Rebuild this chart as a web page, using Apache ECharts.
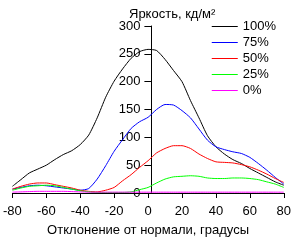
<!DOCTYPE html>
<html><head><meta charset="utf-8">
<script src="https://cdn.jsdelivr.net/npm/echarts@6/dist/echarts.min.js"></script>
<style>html,body{margin:0;padding:0;background:#fff}#c{width:294px;height:242px}</style>
</head><body><div id="c"></div>
<script>
var angles = [-80,-75,-70,-65,-60,-55,-50,-45,-40,-35,-30,-25,-20,-15,-10,-5,0,5,10,15,20,25,30,35,40,45,50,55,60,65,70,75,80];
var s100 = [12,24,36,43,50,60,69,76,87,104,135,172,201,223,242,254,258,256,240,220,200,166,135,103,83,70,60,53,44,36,28,20,14];
var s75  = [7,10,13,14,13,11,9,7,5,8,25,49,75,96,116,128,136,150,159,158,148,135,115,95,83,78,74,71,64,53,41,28,16];
var s50  = [7,12,16,18,18,15,12,9,5,3,2,5,10,22,33,46,58,72,80,85,85,80,70,62,56,55,54,51,47,41,34,26,19];
var s25  = [5,9,12,13,14,13,10,7,4,2,1,1,1,1,2,6,10,18,25,29,30,31,30,27,26,26,27,27,26,24,20,16,10];
var s0   = [1.5,2,2.5,3,3,3,3,2.5,2,1.5,1.5,1.5,1.5,1.5,1.5,1.5,1.5,1.5,1.5,1.5,1.5,1.5,1.5,1.5,1.5,1.5,1.5,1.5,1.5,1.5,1.5,1.5,1.5];
var names = ['100%','75%','50%','25%','0%'];
var colors = ['#000000','#0000ff','#ff0000','#00ff00','#ff00ff'];
var seriesVals = [s100,s75,s50,s25,s0];

function pairs(v){ return angles.map(function(a,i){return [a,v[i]];}); }
var font = 'Liberation Sans, Arial, sans-serif';
var gridLeft = 9, gridRight = 7;
var chart = echarts.init(document.getElementById('c'), null, {renderer:'canvas'});
var plotW = 294 - gridLeft - gridRight;
chart.setOption({
  animation:false,
  color:colors,
  textStyle:{fontFamily:font},
  title:{text:'Яркость, кд/м²', left:124, top:3, textStyle:{fontSize:13, fontWeight:'normal', color:'#000', fontFamily:font}},
  legend:{orient:'vertical', right:13, top:15, itemWidth:26, itemHeight:1, itemGap:3,
    textStyle:{fontSize:13, color:'#000', fontFamily:font},
    data:names.map(function(n,i){
      return {name:n, icon:'rect', itemStyle:{color:colors[i], borderWidth:0, opacity:1}};
    })},
  grid:{left:gridLeft, right:gridRight, top:26, bottom:41, containLabel:false},
  xAxis:{type:'value', min:-80, max:80, interval:20,
    name:'Отклонение от нормали, градусы', nameLocation:'middle', nameGap:31,
    nameTextStyle:{fontSize:13, color:'#000', fontFamily:font},
    axisLine:{onZero:false, lineStyle:{color:'#000', width:1}},
    axisTick:{length:5, lineStyle:{color:'#000'}},
    axisLabel:{fontSize:13, color:'#000', margin:12, fontFamily:font},
    splitLine:{show:false}},
  yAxis:{type:'value', min:0, max:300, interval:50, position:'left', offset:-plotW/2,
    axisLine:{show:true, onZero:false, lineStyle:{color:'#000', width:1}},
    axisTick:{show:true, length:7, lineStyle:{color:'#000'}},
    axisLabel:{fontSize:13, color:'#000', margin:11, fontFamily:font},
    splitLine:{show:false}},
  series:names.map(function(n,i){
    return {name:n, type:'line', data:pairs(seriesVals[i]), showSymbol:false, symbol:'none',
      smooth:0.2, lineStyle:{color:colors[i], width:1}, itemStyle:{color:colors[i]}};
  })
});
</script></body></html>
